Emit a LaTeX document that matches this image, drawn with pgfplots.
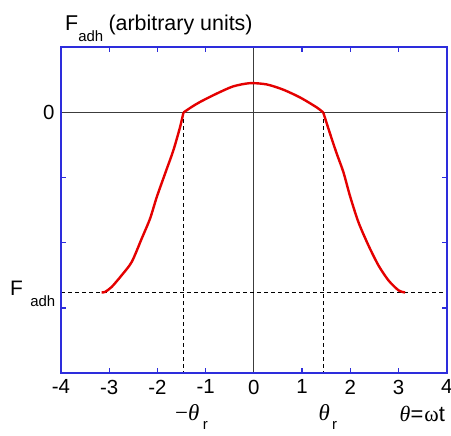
\documentclass[border=0pt]{standalone}
\usepackage{pgfplots}
\pgfplotsset{compat=1.18}
\usepackage{fontspec}
\setmainfont{Liberation Sans}
\newfontfamily\serif{Liberation Serif}
\definecolor{axblue}{RGB}{45,45,220}
\definecolor{curvered}{RGB}{228,0,0}
\definecolor{zeroline}{RGB}{60,60,60}

% lowered small subscript, as in F_adh and theta_r
\newcommand\sub[3][14]{\raisebox{-#2}{\fontsize{#1}{#1}\selectfont #3}}
\newcommand\thet{{\serif\itshape θ}}

\begin{document}
\begin{tikzpicture}
\begin{axis}[
  scale only axis, width=385.7bp, height=326bp,
  xmin=-4, xmax=4, ymin=-4, ymax=1,
  axis line style={axblue, line width=1.8bp},
  every tick/.style={axblue, line width=1.2bp},
  major tick length=5bp,
  tick align=inside,
  xtick={-4,-3,-2,-1,0,1,2,3,4},
  xticklabels={-4,-3,-2,-1,0,1,2,3,4},
  ytick={-3,-2,-1,0},
  yticklabels={,,,0},
  tick label style={font=\fontsize{20.5}{24}\selectfont, text=black},
  xticklabel style={yshift=-3bp},
  yticklabel style={xshift=-3bp},
  clip=false,
]
% reference lines
\addplot[zeroline, line width=0.9bp] coordinates {(-4,0) (4,0)};
\addplot[zeroline, line width=0.9bp] coordinates {(0,-4) (0,1)};
\addplot[black, line width=0.8bp, dash pattern=on 4bp off 3bp] coordinates {(-4,-2.76) (4,-2.76)};
\addplot[black, line width=0.8bp, dash pattern=on 4bp off 3bp] coordinates {(-1.46,0) (-1.46,-4)};
\addplot[black, line width=0.8bp, dash pattern=on 4bp off 3bp] coordinates {(1.44,0) (1.44,-4)};

% adhesion force over one cycle: outer branches
\addplot[curvered, line width=2.4bp, line join=round, smooth, tension=0.45] coordinates {
  (-3.156,-2.760) (-3.087,-2.752) (-2.948,-2.675) (-2.741,-2.496)
  (-2.533,-2.292) (-2.326,-1.934) (-2.153,-1.628) (-2.015,-1.300)
  (-1.842,-0.939) (-1.670,-0.582) (-1.531,-0.225) (-1.460,0.000)
};
\addplot[curvered, line width=2.4bp, line join=round, smooth, tension=0.45] coordinates {
  (1.440,0.000) (1.581,-0.326) (1.720,-0.633) (1.857,-0.914) (1.996,-1.285)
  (2.168,-1.680) (2.376,-2.037) (2.583,-2.343) (2.790,-2.573)
  (2.998,-2.726) (3.137,-2.761)
};
% central arc
\addplot[curvered, line width=2.4bp, line join=round, smooth, tension=0.45] coordinates {
  (-1.460,0.000) (-1.300,0.080) (-1.120,0.160) (-0.770,0.290) (-0.430,0.400)
  (-0.080,0.450) (0.270,0.430) (0.610,0.350) (0.960,0.230)
  (1.300,0.080) (1.440,0.000)
};

% frame drawn once more on top so all four sides show in blue
\draw[axblue, line width=1.8bp] (rel axis cs:0,0) rectangle (rel axis cs:1,1);

% annotations
\node[anchor=base west, inner sep=0, font=\fontsize{21.5}{24}\selectfont]
  at (axis cs:-3.917,1.256) {F\sub[15]{0.5em}{adh}\hspace{0.25em}(arbitrary units)};
\node[anchor=base west, inner sep=0, font=\fontsize{21}{24}\selectfont]
  at (axis cs:-5.058,-2.802) {F\hspace{0.35em}\sub[15]{0.55em}{adh}};
\node[anchor=base west, inner sep=0, font=\fontsize{23}{24}\selectfont]
  at (axis cs:-1.635,-4.72) {{\serif −}\thet\hspace{0.15em}\sub[15]{0.42em}{r}};
\node[anchor=base west, inner sep=0, font=\fontsize{23}{24}\selectfont]
  at (axis cs:1.338,-4.72) {\thet\hspace{0.1em}\sub[15]{0.42em}{r}};
\node[anchor=base east, inner sep=0, font=\fontsize{22}{24}\selectfont]
  at (axis cs:3.967,-4.745) {\thet=\hspace{0.05em}{\serif ω}t};
\end{axis}
\pgfresetboundingbox
\path ([xshift=-61bp,yshift=-62.7bp]current axis.south west)
  rectangle ([xshift=4.3bp,yshift=47.3bp]current axis.north east);
\end{tikzpicture}
\end{document}
